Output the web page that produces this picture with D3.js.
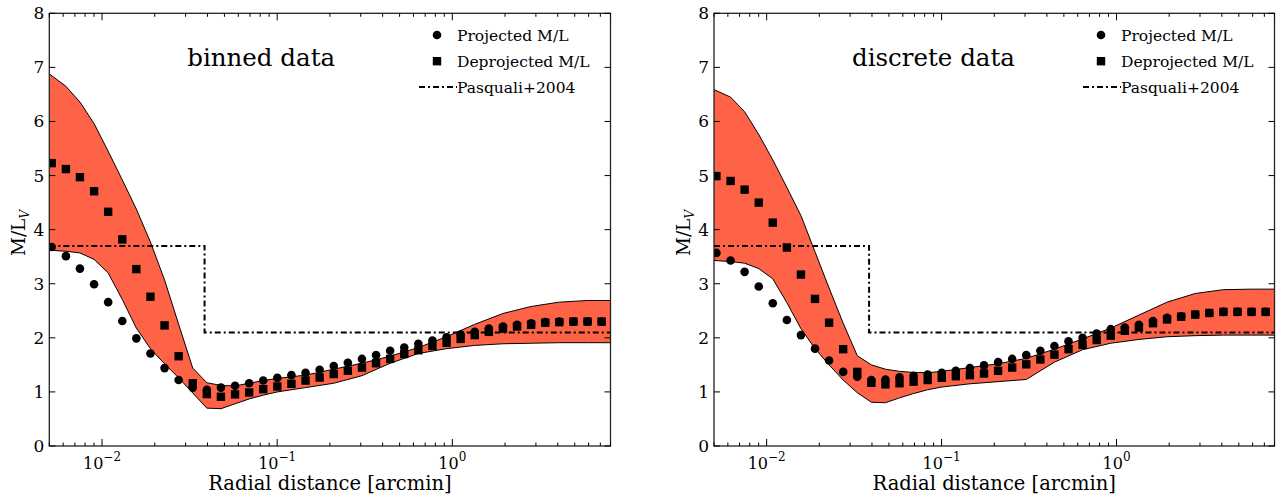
<!DOCTYPE html>
<html>
<head>
<meta charset="utf-8">
<script src="https://cdn.jsdelivr.net/npm/d3@7"></script>
<style>
    body { margin: 0; background: #fff; }
    text { font-family: "DejaVu Serif", serif; fill: #000; }
</style>
</head>
<body>
<svg id="chart" width="1278" height="496"></svg>
<script>
// Radii of the M/L profile samples [arcmin]
const radii = [0.00516, 0.00622, 0.00748, 0.00901, 0.01084, 0.01305, 0.0157, 0.0189, 0.02275, 0.02738,
    0.03296, 0.03967, 0.04775, 0.05747, 0.06918, 0.08326, 0.1002, 0.1206, 0.1452, 0.1748,
    0.2104, 0.2532, 0.3048, 0.3669, 0.4416, 0.5315, 0.6397, 0.77, 0.9268, 1.1156,
    1.3428, 1.6163, 1.9454, 2.3416, 2.8184, 3.3924, 4.0832, 4.9147, 5.9156, 7.1203, 8.57];

const binnedProjected = [3.68, 3.51, 3.28, 2.99, 2.66, 2.31, 1.99, 1.71, 1.44, 1.22,
    1.08, 1.04, 1.08, 1.115, 1.16, 1.21, 1.26, 1.31, 1.355, 1.41,
    1.48, 1.54, 1.61, 1.68, 1.76, 1.82, 1.89, 1.95, 2.01, 2.06,
    2.11, 2.17, 2.21, 2.24, 2.27, 2.29, 2.3, 2.3, 2.3, 2.3, 2.3];
const binnedDeprojected = [5.23, 5.12, 4.97, 4.71, 4.33, 3.82, 3.27, 2.76, 2.23, 1.66,
    1.16, 0.96, 0.91, 0.955, 0.99, 1.05, 1.1, 1.15, 1.21, 1.265,
    1.33, 1.39, 1.45, 1.53, 1.61, 1.7, 1.77, 1.85, 1.91, 1.98,
    2.05, 2.11, 2.17, 2.21, 2.24, 2.28, 2.29, 2.3, 2.3, 2.3, 2.3];

const discreteProjected = [3.57, 3.43, 3.22, 2.95, 2.64, 2.33, 2.05, 1.8, 1.58, 1.37,
    1.28, 1.22, 1.23, 1.27, 1.3, 1.32, 1.355, 1.39, 1.44, 1.49,
    1.55, 1.61, 1.68, 1.76, 1.85, 1.935, 2.0, 2.08, 2.16, 2.19,
    2.24, 2.31, 2.37, 2.4, 2.43, 2.46, 2.48, 2.48, 2.48, 2.48, 2.48];
const discreteDeprojected = [4.99, 4.9, 4.74, 4.5, 4.13, 3.67, 3.17, 2.72, 2.28, 1.79,
    1.37, 1.17, 1.14, 1.16, 1.19, 1.22, 1.26, 1.29, 1.31, 1.34,
    1.39, 1.45, 1.51, 1.6, 1.69, 1.79, 1.87, 1.96, 2.04, 2.13,
    2.19, 2.27, 2.34, 2.39, 2.43, 2.46, 2.48, 2.48, 2.48, 2.48, 2.48];

// Confidence band of the deprojected M/L
const bandRadii = [0.005, 0.00622, 0.00748, 0.00901, 0.01084, 0.01305, 0.0157, 0.0189, 0.02275, 0.02738,
    0.03296, 0.03967, 0.04775, 0.05747, 0.06918, 0.08326, 0.1002, 0.1452, 0.2104, 0.3048,
    0.4416, 0.6397, 0.9268, 1.3428, 1.9454, 2.8184, 4.0832, 5.9156, 8.57];
const binnedUpper = [6.88, 6.65, 6.36, 5.96, 5.45, 4.92, 4.38, 3.77, 3.07, 2.25,
    1.44, 1.17, 1.12, 1.11, 1.16, 1.21, 1.25, 1.31, 1.42, 1.53,
    1.66, 1.82, 2.02, 2.25, 2.45, 2.58, 2.66, 2.69, 2.69];
const binnedLower = [3.62, 3.6, 3.57, 3.45, 3.2, 2.71, 2.18, 1.8, 1.52, 1.26,
    0.98, 0.7, 0.69, 0.78, 0.87, 0.94, 1.0, 1.08, 1.16, 1.3,
    1.53, 1.71, 1.8, 1.86, 1.89, 1.9, 1.91, 1.91, 1.91];
const discreteUpper = [6.59, 6.45, 6.18, 5.76, 5.29, 4.78, 4.26, 3.59, 2.92, 2.27,
    1.67, 1.5, 1.42, 1.38, 1.36, 1.355, 1.38, 1.45, 1.52, 1.62,
    1.79, 1.98, 2.18, 2.42, 2.66, 2.82, 2.89, 2.9, 2.9];
const discreteLower = [3.43, 3.41, 3.38, 3.28, 3.09, 2.65, 2.17, 1.8, 1.5, 1.22,
    0.985, 0.81, 0.8, 0.89, 0.97, 1.04, 1.09, 1.15, 1.19, 1.23,
    1.55, 1.78, 1.9, 1.97, 2.02, 2.04, 2.05, 2.05, 2.05];

// Pasquali+2004 step profile
const pasqualiR = [0.005, 0.0385, 0.0385, 8];
const pasqualiML = [3.7, 3.7, 2.1, 2.1];

const yTicks = [0, 1, 2, 3, 4, 5, 6, 7, 8];
const xMajor = [0.01, 0.1, 1];
const xMajorExp = ["\u22122", "\u22121", "0"];
const legendLabels = ["Projected M/L", "Deprojected M/L", "Pasquali+2004"];

const svg = d3.select("#chart");

function drawPanel(left, right, title, projected, deprojected, upper, lower, id) {
    const top = 13.3, bottom = 446;
    const x = d3.scaleLog().domain([0.005, 8]).range([left, right]);
    const y = d3.scaleLinear().domain([0, 8]).range([bottom, top]);
    const g = svg.append("g");

    g.append("clipPath").attr("id", id)
        .append("rect")
        .attr("x", left).attr("y", top)
        .attr("width", right - left).attr("height", bottom - top);
    const plot = g.append("g").attr("clip-path", "url(#" + id + ")");

    // band
    const band = bandRadii.map((r, i) => ({r: r, lo: lower[i], hi: upper[i]}));
    plot.append("path")
        .datum(band)
        .attr("fill", "#ff6347")
        .attr("d", d3.area().x(d => x(d.r)).y0(d => y(d.lo)).y1(d => y(d.hi)));
    for (const key of ["lo", "hi"]) {
        plot.append("path")
            .datum(band)
            .attr("fill", "none")
            .attr("stroke", "#000")
            .attr("stroke-width", 1)
            .attr("d", d3.line().x(d => x(d.r)).y(d => y(d[key])));
    }

    // Pasquali line
    plot.append("path")
        .datum(pasqualiR.map((r, i) => [r, pasqualiML[i]]))
        .attr("fill", "none")
        .attr("stroke", "#000")
        .attr("stroke-width", 2)
        .attr("stroke-dasharray", "6,3,2,3")
        .attr("d", d3.line().x(d => x(d[0])).y(d => y(d[1])));

    // markers
    plot.selectAll(".proj").data(radii).join("circle")
        .attr("cx", d => x(d))
        .attr("cy", (d, i) => y(projected[i]))
        .attr("r", 4.3)
        .attr("fill", "#000");
    plot.selectAll(".deproj").data(radii).join("rect")
        .attr("x", d => x(d) - 4.2)
        .attr("y", (d, i) => y(deprojected[i]) - 4.2)
        .attr("width", 8.4).attr("height", 8.4)
        .attr("fill", "#000");

    // frame
    g.append("rect")
        .attr("x", left).attr("y", top)
        .attr("width", right - left).attr("height", bottom - top)
        .attr("fill", "none")
        .attr("stroke", "#222")
        .attr("stroke-width", 1.3);

    // y ticks, both sides, inward
    for (const t of yTicks) {
        g.append("line").attr("x1", left).attr("x2", left + 6)
            .attr("y1", y(t)).attr("y2", y(t)).attr("stroke", "#000");
        g.append("line").attr("x1", right).attr("x2", right - 6)
            .attr("y1", y(t)).attr("y2", y(t)).attr("stroke", "#000");
        g.append("text")
            .attr("x", left - 5).attr("y", y(t) + 6)
            .attr("text-anchor", "end")
            .attr("font-size", 17)
            .text(t);
    }

    // x ticks: majors and minors, top and bottom, inward
    const minors = [];
    for (const dec of [0.001, 0.01, 0.1, 1]) {
        for (let k = 2; k <= 9; k++) minors.push(dec * k);
    }
    for (const t of minors.filter(v => v >= 0.005 && v <= 8)) {
        g.append("line").attr("x1", x(t)).attr("x2", x(t))
            .attr("y1", bottom).attr("y2", bottom - 3.5).attr("stroke", "#000");
        g.append("line").attr("x1", x(t)).attr("x2", x(t))
            .attr("y1", top).attr("y2", top + 3.5).attr("stroke", "#000");
    }
    xMajor.forEach((t, i) => {
        g.append("line").attr("x1", x(t)).attr("x2", x(t))
            .attr("y1", bottom).attr("y2", bottom - 7).attr("stroke", "#000");
        g.append("line").attr("x1", x(t)).attr("x2", x(t))
            .attr("y1", top).attr("y2", top + 7).attr("stroke", "#000");
        const lab = g.append("text")
            .attr("x", x(t)).attr("y", 469)
            .attr("text-anchor", "middle")
            .attr("font-size", 16);
        lab.append("tspan").text("10");
        lab.append("tspan").attr("dy", -8).attr("font-size", 12).text(xMajorExp[i]);
    });

    // axis titles
    g.append("text")
        .attr("x", (left + right) / 2).attr("y", 490)
        .attr("text-anchor", "middle")
        .attr("font-size", 19.5)
        .text("Radial distance [arcmin]");
    const yl = g.append("text")
        .attr("transform", "translate(" + (left - 24) + ",233) rotate(-90)")
        .attr("text-anchor", "middle")
        .attr("font-size", 18.5);
    yl.append("tspan").text("M/L");
    yl.append("tspan").attr("dy", 4).attr("font-size", 12).attr("font-style", "italic").text("V");

    // panel title
    g.append("text")
        .attr("x", left + 138).attr("y", 66)
        .attr("font-size", 24.5)
        .text(title);

    // legend
    const lx = right - 173.5;
    g.append("circle").attr("cx", lx).attr("cy", 35).attr("r", 4.3).attr("fill", "#000");
    g.append("rect").attr("x", lx - 4.2).attr("y", 57).attr("width", 8.4).attr("height", 8.4).attr("fill", "#000");
    g.append("line")
        .attr("x1", lx - 18).attr("x2", lx + 20)
        .attr("y1", 87).attr("y2", 87)
        .attr("stroke", "#000").attr("stroke-width", 2)
        .attr("stroke-dasharray", "6,3,2,3");
    legendLabels.forEach((lab, i) => {
        g.append("text")
            .attr("x", lx + 20).attr("y", 41 + i * 26)
            .attr("font-size", 15.5)
            .text(lab);
    });
}

drawPanel(49.3, 610.5, "binned data", binnedProjected, binnedDeprojected, binnedUpper, binnedLower, "clipL");
drawPanel(714, 1274.5, "discrete data", discreteProjected, discreteDeprojected, discreteUpper, discreteLower, "clipR");
</script>
</body>
</html>
